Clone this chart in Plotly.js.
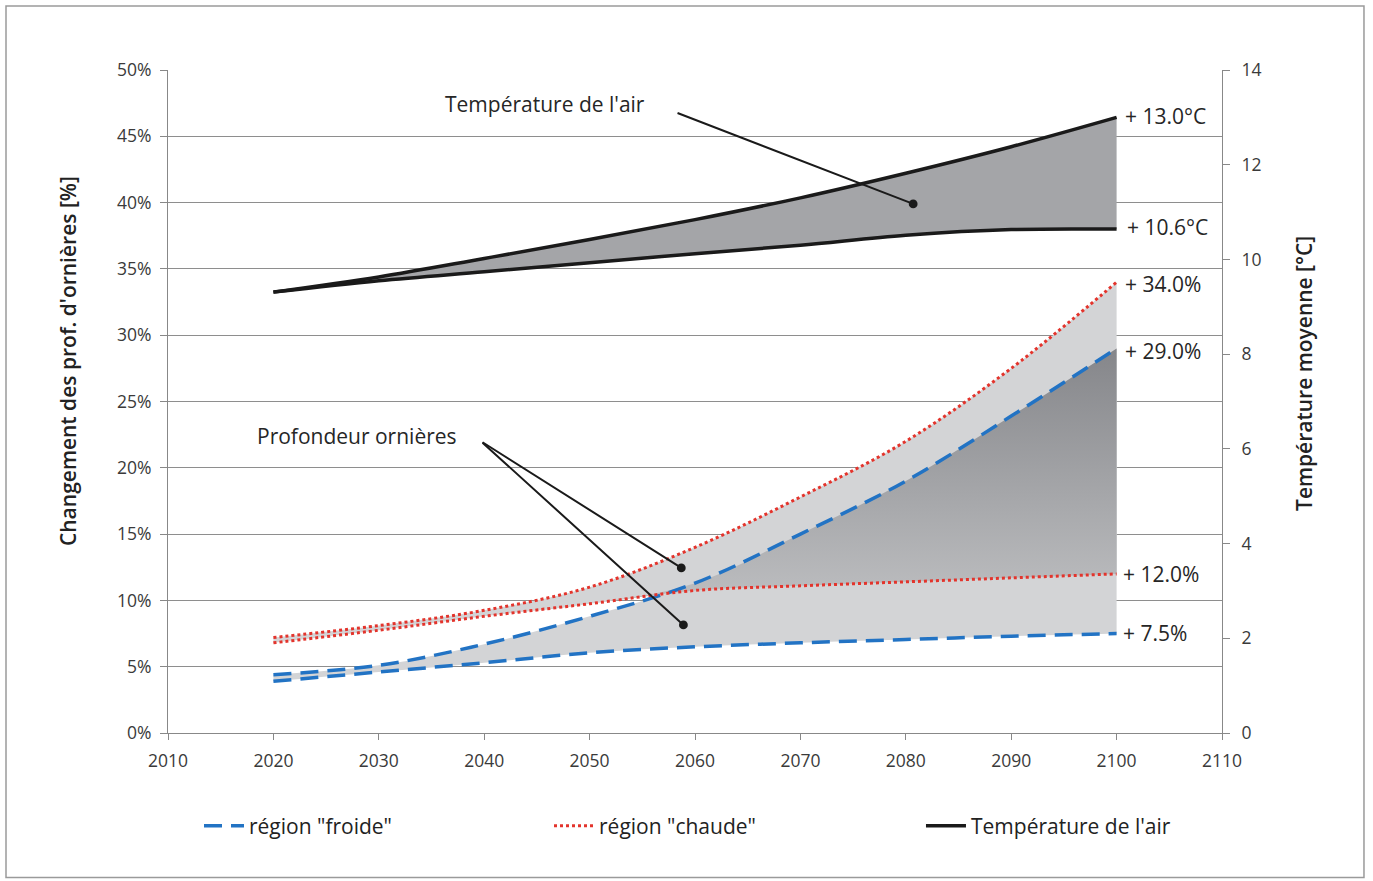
<!DOCTYPE html>
<html>
<head>
<meta charset="utf-8">
<script src="https://cdn.plot.ly/plotly-3.0.1.min.js"></script>
<style>html,body{margin:0;padding:0;background:#fff;}#chart{width:1373px;height:881px;}</style>
</head>
<body>
<div id="chart"></div>
<script>
const years = [2020, 2030, 2040, 2050, 2060, 2070, 2080, 2090, 2100];
const froideLow  = [3.9, 4.6, 5.3, 6.05, 6.5, 6.8, 7.05, 7.3, 7.5];
const froideHigh = [4.4, 5.1, 6.7, 8.8, 11.3, 15.0, 19.0, 23.9, 29.0];
const chaudeLow  = [6.8, 7.75, 8.8, 9.75, 10.75, 11.1, 11.4, 11.7, 12.0];
const chaudeHigh = [7.2, 8.1, 9.25, 11.0, 14.0, 17.8, 22.0, 27.5, 34.0];
const tempLow  = [9.31, 9.55, 9.74, 9.93, 10.12, 10.30, 10.51, 10.63, 10.64];
const tempHigh = [9.31, 9.63, 10.02, 10.42, 10.84, 11.30, 11.82, 12.38, 13.0];

const endLabels = ["+ 13.0°C", "+ 10.6°C", "+ 34.0%", "+ 29.0%", "+ 12.0%", "+ 7.5%"];
const legendNames = ['région "froide"', 'région "chaude"', "Température de l'air"];
const axisTitles = ["Changement des prof. d'ornières [%]", "Température moyenne [°C]"];

const FONT = "Open Sans, sans-serif";
const BLUE = "#2273c4";
const RED = "#e3342c";
const BAND = "#d3d4d6";

// overlap of the two bands (derived from the series)
const overlapLow = years.map((_, i) => Math.max(froideLow[i], chaudeLow[i]));
const overlapHigh = years.map((_, i) => Math.max(overlapLow[i], Math.min(froideHigh[i], chaudeHigh[i])));

const base = {mode: "lines", hoverinfo: "skip", showlegend: false};
const traces = [
  Object.assign({}, base, {x: years, y: froideLow, line: {width: 0, shape: "spline"}}),
  Object.assign({}, base, {x: years, y: froideHigh, line: {width: 0, shape: "spline"}, fill: "tonexty", fillcolor: BAND}),
  Object.assign({}, base, {x: years, y: chaudeLow, line: {width: 0, shape: "spline"}}),
  Object.assign({}, base, {x: years, y: chaudeHigh, line: {width: 0, shape: "spline"}, fill: "tonexty", fillcolor: BAND}),
  Object.assign({}, base, {x: years, y: overlapLow, line: {width: 0, shape: "spline"}}),
  Object.assign({}, base, {x: years, y: overlapHigh, line: {width: 0, shape: "spline"}, fill: "tonexty",
    fillgradient: {type: "vertical", colorscale: [[0, "#c6c7c9"], [1, "#85868a"]]}}),
  Object.assign({}, base, {x: years, y: froideLow, line: {width: 3.5, color: BLUE, dash: "18px,9px", shape: "spline"}}),
  Object.assign({}, base, {x: years, y: froideHigh, name: legendNames[0], showlegend: true, legend: "legend",
    line: {width: 3.5, color: BLUE, dash: "18px,9px", shape: "spline"}}),
  Object.assign({}, base, {x: years, y: chaudeLow, line: {width: 3, color: RED, dash: "3px,3px", shape: "spline"}}),
  Object.assign({}, base, {x: years, y: chaudeHigh, name: legendNames[1], showlegend: true, legend: "legend2",
    line: {width: 3, color: RED, dash: "3px,3px", shape: "spline"}}),
  Object.assign({}, base, {x: years, y: tempLow, yaxis: "y2", name: legendNames[2], showlegend: true, legend: "legend3",
    line: {width: 3.5, color: "#1a1a1a", shape: "spline"}}),
  Object.assign({}, base, {x: years, y: tempHigh, yaxis: "y2",
    line: {width: 3.5, color: "#1a1a1a", shape: "spline"}, fill: "tonexty", fillcolor: "#a4a5a8"})
];

const txt = {family: FONT, size: 21, color: "#262626"};
const titleFont = {family: FONT, size: 21, color: "#222", weight: 600};
const annotations = [
  {x: 2045.8, y: 47.4, text: "Température de l'air", showarrow: false, font: txt},
  {x: 2027.9, y: 22.4, text: "Profondeur ornières", showarrow: false, font: txt},
  {x: 2080.7, y: 39.9, ax: 2058.2, ay: 46.8, axref: "x", ayref: "y", text: "", showarrow: true,
    arrowhead: 6, arrowsize: 1.1, arrowwidth: 2, arrowcolor: "#1a1a1a", standoff: 0},
  {x: 2058.7, y: 12.45, ax: 2039.7, ay: 22.0, axref: "x", ayref: "y", text: "", showarrow: true,
    arrowhead: 6, arrowsize: 1.1, arrowwidth: 2, arrowcolor: "#1a1a1a", standoff: 0},
  {x: 2058.9, y: 8.15, ax: 2039.7, ay: 22.0, axref: "x", ayref: "y", text: "", showarrow: true,
    arrowhead: 6, arrowsize: 1.1, arrowwidth: 2, arrowcolor: "#1a1a1a", standoff: 0},
  {xref: "paper", yref: "paper", x: -0.0949, y: 0.561, text: axisTitles[0], textangle: -90,
    showarrow: false, font: titleFont, xanchor: "center", yanchor: "middle"},
  {xref: "paper", yref: "paper", x: 1.0778, y: 0.5415, text: axisTitles[1], textangle: -90,
    showarrow: false, font: titleFont, xanchor: "center", yanchor: "middle"}
];
const labelY = [46.55, 38.15, 33.85, 28.8, 12.0, 7.55];
const labelX = [2100.6, 2100.8, 2100.6, 2100.6, 2100.4, 2100.4];
endLabels.forEach((t, i) => annotations.push({x: labelX[i], y: labelY[i], xanchor: "left", yanchor: "middle",
  text: t, showarrow: false, font: {family: FONT, size: 21, color: "#262626"}}));

const axisFont = {family: FONT, size: 17.5, color: "#3a3a3a"};
const legFont = {family: FONT, size: 21, color: "#222"};
const legBase = {orientation: "h", y: -0.1403, xanchor: "left", yanchor: "middle", font: legFont,
  bgcolor: "rgba(0,0,0,0)", itemwidth: 40};
const layout = {
  width: 1373, height: 881,
  margin: {l: 168, r: 151, t: 70, b: 148},
  paper_bgcolor: "#fff", plot_bgcolor: "#fff",
  font: {family: FONT},
  xaxis: {range: [2010, 2110], tick0: 2010, dtick: 10, ticks: "outside", ticklen: 6, tickcolor: "#888",
    ticklabelstandoff: 6,
    showline: true, linecolor: "#888", linewidth: 1, showgrid: false, zeroline: false, tickfont: axisFont},
  yaxis: {range: [0, 50], dtick: 5, ticksuffix: "%", ticks: "outside", ticklen: 7, tickcolor: "#888",
    ticklabelstandoff: 5,
    showline: true, linecolor: "#888", gridcolor: "#8e8e8e", gridwidth: 1, zeroline: false, tickfont: axisFont},
  yaxis2: {range: [0, 14], dtick: 2, overlaying: "y", side: "right", ticks: "outside", ticklen: 7, tickcolor: "#888",
    ticklabelstandoff: 8,
    showline: true, linecolor: "#888", showgrid: false, zeroline: false, tickfont: axisFont},
  legend: Object.assign({}, legBase, {x: 0.0294}),
  legend2: Object.assign({}, legBase, {x: 0.3615}),
  legend3: Object.assign({}, legBase, {x: 0.7144}),
  annotations: annotations,
  shapes: [{type: "rect", xref: "paper", yref: "paper", x0: -0.1537, x1: 1.1347, y0: -0.218, y1: 1.0965,
    line: {color: "#9a9a9a", width: 1.5}, layer: "below"}]
};

Plotly.newPlot("chart", traces, layout, {staticPlot: true, displayModeBar: false});
</script>
</body>
</html>
